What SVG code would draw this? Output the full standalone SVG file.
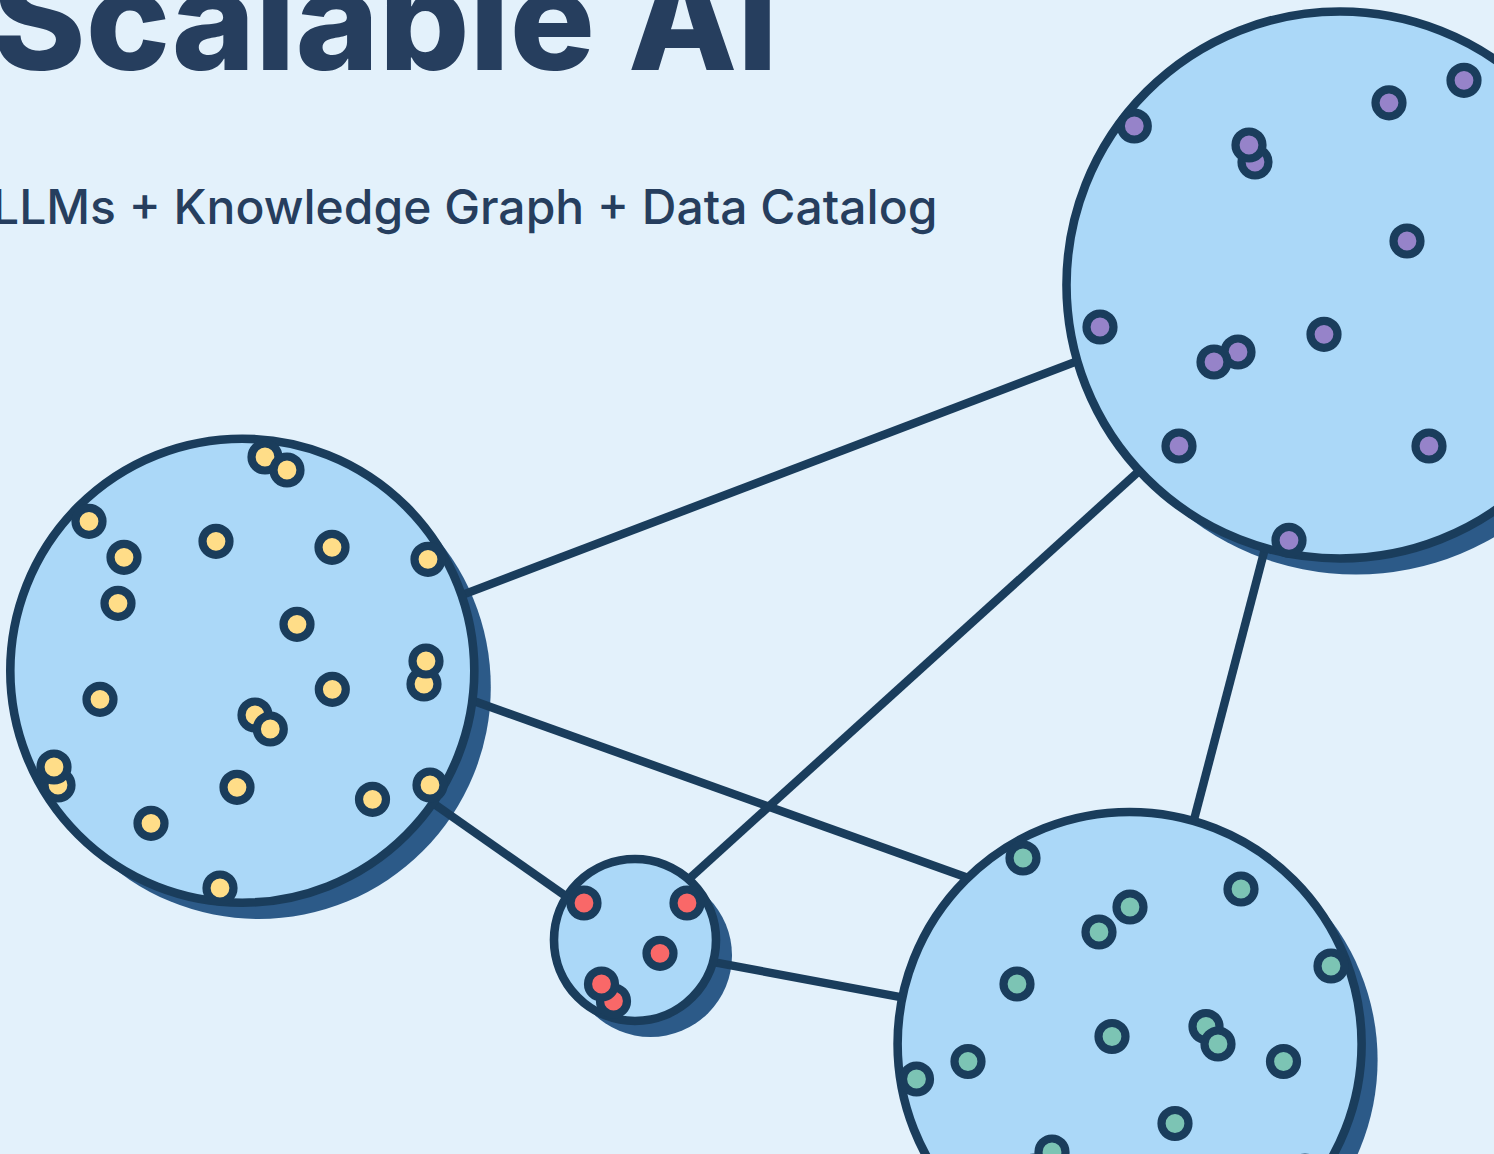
<svg xmlns="http://www.w3.org/2000/svg" width="1494" height="1154" viewBox="0 0 1494 1154">
<style>
.bg{fill:#e3f1fb}
.sh{fill:#2c5a88}
.c{fill:#abd8f8;stroke:#1a3d5c;stroke-width:8.6}
.l{stroke:#1a3d5c;stroke-width:8.4;fill:none}
.d{stroke:#1a3d5c;stroke-width:8.2}
.y{fill:#ffdd88}.p{fill:#9683c9}.g{fill:#7cc4b4}.r{fill:#f96868}
text{fill:#263e5e;font-family:Inter,"Liberation Sans",sans-serif}
</style>
<rect class="bg" width="1494" height="1154"/>
<text id="title" x="-8" y="70" font-size="142" font-weight="800" word-spacing="2">Scalable AI</text>
<text id="subtitle" x="-8" y="224" font-size="48" font-weight="500">LLMs + Knowledge Graph + Data Catalog</text>
<g id="shadows">
<circle class="sh" cx="258.8" cy="687" r="232"/>
<circle class="sh" cx="1356" cy="301" r="273.5"/>
<circle class="sh" cx="1145.6" cy="1060" r="232"/>
<circle class="sh" cx="650.5" cy="955.5" r="81.5"/>
</g>
<g id="connectors">
<line class="l" x1="450" y1="599.6" x2="1095" y2="354.4"/>
<line class="l" x1="457" y1="695" x2="985" y2="884"/>
<line class="l" x1="425" y1="797.5" x2="582" y2="907.5"/>
<line class="l" x1="675" y1="891.6" x2="1153" y2="458.4"/>
<line class="l" x1="700" y1="959.6" x2="918" y2="1000.4"/>
<line class="l" x1="1268" y1="537" x2="1190" y2="835"/>
</g>
<g id="node-left">
<circle class="c" cx="242.3" cy="670.7" r="232"/>
<g class="y">
<circle class="d" cx="265" cy="457" r="13.5"/><circle class="d" cx="287" cy="470" r="13.5"/><circle class="d" cx="89" cy="521.3" r="13.5"/><circle class="d" cx="124" cy="557.3" r="13.5"/><circle class="d" cx="216" cy="541.3" r="13.5"/><circle class="d" cx="332" cy="547.3" r="13.5"/><circle class="d" cx="428" cy="559.3" r="13.5"/><circle class="d" cx="118" cy="603.3" r="13.5"/><circle class="d" cx="297" cy="624.3" r="13.5"/><circle class="d" cx="424" cy="684" r="13.5"/><circle class="d" cx="426" cy="661" r="13.5"/><circle class="d" cx="332.3" cy="689.3" r="13.5"/><circle class="d" cx="100" cy="699.3" r="13.5"/><circle class="d" cx="255" cy="715" r="13.5"/><circle class="d" cx="270.3" cy="729" r="13.5"/><circle class="d" cx="58" cy="785" r="13.5"/><circle class="d" cx="54" cy="767" r="13.5"/><circle class="d" cx="237" cy="787.3" r="13.5"/><circle class="d" cx="430" cy="785" r="13.5"/><circle class="d" cx="372.5" cy="799.3" r="13.5"/><circle class="d" cx="151" cy="823.3" r="13.5"/><circle class="d" cx="220" cy="888" r="13.5"/>
</g>
</g>
<g id="node-top-right">
<circle class="c" cx="1340" cy="285" r="273.5"/>
<g class="p">
<circle class="d" cx="1464" cy="80.3" r="13.5"/><circle class="d" cx="1389" cy="102.8" r="13.5"/><circle class="d" cx="1134.3" cy="126" r="13.5"/><circle class="d" cx="1255" cy="162" r="13.5"/><circle class="d" cx="1249" cy="145" r="13.5"/><circle class="d" cx="1407" cy="241" r="13.5"/><circle class="d" cx="1100" cy="327" r="13.5"/><circle class="d" cx="1324" cy="334.3" r="13.5"/><circle class="d" cx="1238" cy="352" r="13.5"/><circle class="d" cx="1214" cy="362" r="13.5"/><circle class="d" cx="1179" cy="446" r="13.5"/><circle class="d" cx="1429" cy="446" r="13.5"/><circle class="d" cx="1289" cy="540.3" r="13.5"/>
</g>
</g>
<g id="node-bottom-right">
<circle class="c" cx="1129.6" cy="1044" r="232"/>
<g class="g">
<circle class="d" cx="1023" cy="858" r="13.5"/><circle class="d" cx="1241" cy="889" r="13.5"/><circle class="d" cx="1130" cy="907" r="13.5"/><circle class="d" cx="1099" cy="932" r="13.5"/><circle class="d" cx="1331" cy="966" r="13.5"/><circle class="d" cx="1017" cy="984" r="13.5"/><circle class="d" cx="1112" cy="1036.5" r="13.5"/><circle class="d" cx="1206" cy="1026.5" r="13.5"/><circle class="d" cx="1218" cy="1044" r="13.5"/><circle class="d" cx="968" cy="1061.5" r="13.5"/><circle class="d" cx="1283.5" cy="1061.5" r="13.5"/><circle class="d" cx="916.5" cy="1079" r="13.5"/><circle class="d" cx="1175" cy="1123.5" r="13.5"/><circle class="d" cx="1034" cy="1171" r="13.5"/><circle class="d" cx="1052" cy="1152" r="13.5"/><circle class="d" cx="1305" cy="1171" r="13.5"/>
</g>
</g>
<g id="node-small">
<circle class="c" cx="635" cy="940" r="81"/>
<g class="r">
<circle class="d" cx="584" cy="903" r="13.5"/><circle class="d" cx="687" cy="903" r="13.5"/><circle class="d" cx="660" cy="953.3" r="13.5"/><circle class="d" cx="613.5" cy="1001" r="13.5"/><circle class="d" cx="601.5" cy="984" r="13.5"/>
</g>
</g>
</svg>
